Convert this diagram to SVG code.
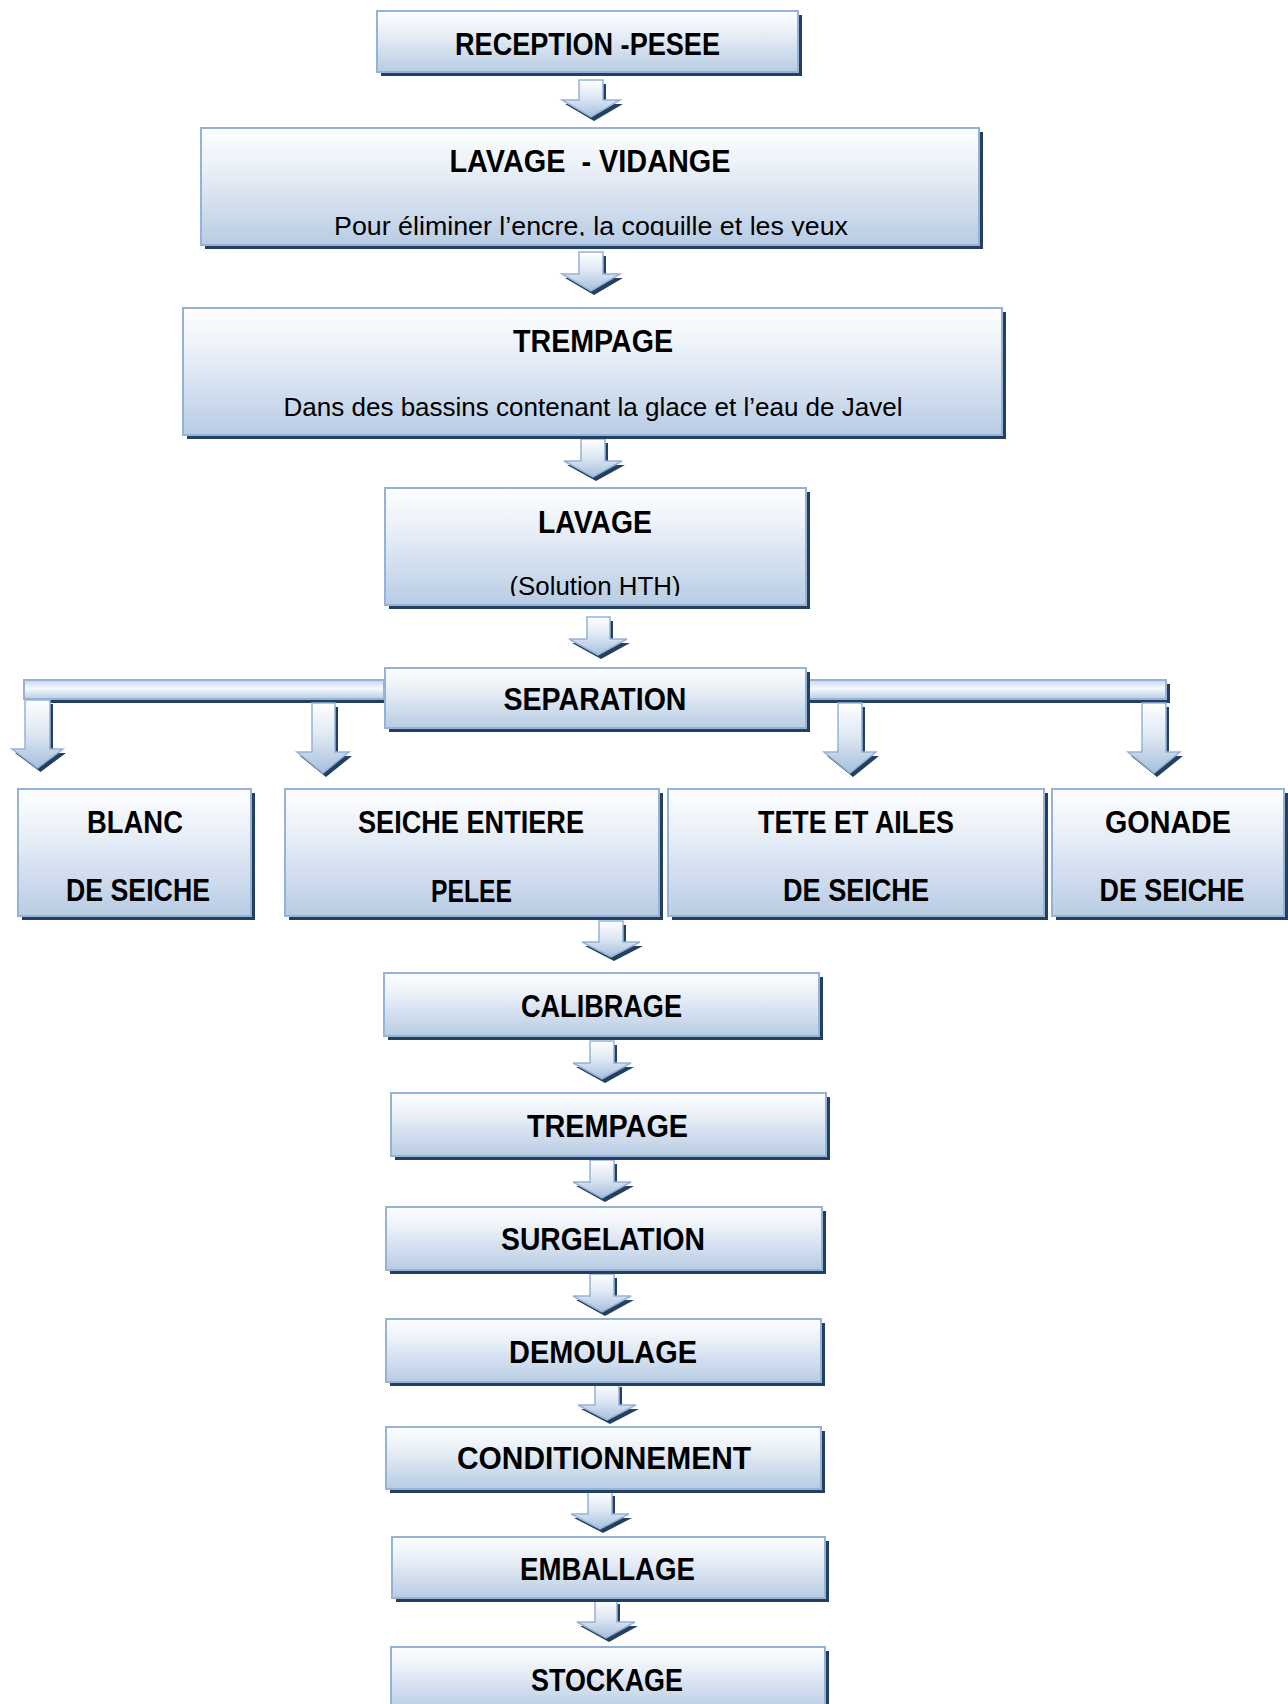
<svg xmlns="http://www.w3.org/2000/svg" width="1288" height="1704" viewBox="0 0 1288 1704">
<style>
.box{fill:url(#gBox);stroke:#95B3D7;stroke-width:2}
.sh{fill:#243F60}
.bar{fill:url(#gBar);stroke:#95B3D7;stroke-width:2}
.arr{fill:url(#gArr);stroke:#95B3D7;stroke-width:1.5;stroke-linejoin:miter}
.t{font-family:"Liberation Sans",Arial,sans-serif;font-weight:bold;font-size:31px;fill:#000;text-anchor:middle}
.s{font-family:"Liberation Sans",Arial,sans-serif;font-size:25px;fill:#000;text-anchor:middle}
</style>
<defs>
<linearGradient id="gBox" x1="0" y1="0" x2="0" y2="1">
<stop offset="0" stop-color="#FDFEFF"/>
<stop offset="0.3" stop-color="#EDF2F9"/>
<stop offset="1" stop-color="#B8CCE4"/>
</linearGradient>
<linearGradient id="gBar" x1="0" y1="0" x2="0" y2="1">
<stop offset="0" stop-color="#C6D7EC"/>
<stop offset="0.45" stop-color="#F6F9FC"/>
<stop offset="1" stop-color="#B8CCE4"/>
</linearGradient>
<linearGradient id="gArr" x1="0" y1="0" x2="0" y2="1">
<stop offset="0" stop-color="#FFFFFF"/>
<stop offset="0.5" stop-color="#DCE6F2"/>
<stop offset="1" stop-color="#A7BFDE"/>
</linearGradient>
<clipPath id="clipVid"><rect x="201" y="128" width="778" height="108"/></clipPath>
<clipPath id="clipHth"><rect x="385" y="488" width="421" height="108"/></clipPath>
</defs>
<rect width="1288" height="1704" fill="#FFFFFF"/>

<g id="connectors">
<rect class="sh" x="28" y="684" width="360" height="19"/>
<rect class="bar" x="24" y="680" width="360" height="19"/>
<rect class="sh" x="810" y="684" width="360" height="19"/>
<rect class="bar" x="806" y="680" width="360" height="19"/>

<path class="sh" transform="translate(3,4)" d="M579,80 H603 V100 H620 L591,117 L562,100 H579 Z"/>
<path class="arr" d="M579,80 H603 V100 H620 L591,117 L562,100 H579 Z"/>
<path class="sh" transform="translate(3,4)" d="M579,252 H603 V274 H620 L591,291 L562,274 H579 Z"/>
<path class="arr" d="M579,252 H603 V274 H620 L591,291 L562,274 H579 Z"/>
<path class="sh" transform="translate(3,4)" d="M581,439 H605 V461 H622 L593,477 L564,461 H581 Z"/>
<path class="arr" d="M581,439 H605 V461 H622 L593,477 L564,461 H581 Z"/>
<path class="sh" transform="translate(3,4)" d="M587,617 H610 V639 H627 L598,655 L569,639 H587 Z"/>
<path class="arr" d="M587,617 H610 V639 H627 L598,655 L569,639 H587 Z"/>

<path class="sh" transform="translate(3,4)" d="M25,700 H50 V749 H63 L37.5,768 L12,749 H25 Z"/>
<path class="arr" d="M25,700 H50 V749 H63 L37.5,768 L12,749 H25 Z"/>
<path class="sh" transform="translate(3,4)" d="M312,703 H335 V752 H349 L323,773 L297,752 H312 Z"/>
<path class="arr" d="M312,703 H335 V752 H349 L323,773 L297,752 H312 Z"/>
<path class="sh" transform="translate(3,4)" d="M838,703 H862 V752 H876 L850,773 L824,752 H838 Z"/>
<path class="arr" d="M838,703 H862 V752 H876 L850,773 L824,752 H838 Z"/>
<path class="sh" transform="translate(3,4)" d="M1142,703 H1166 V752 H1180 L1154,773 L1128,752 H1142 Z"/>
<path class="arr" d="M1142,703 H1166 V752 H1180 L1154,773 L1128,752 H1142 Z"/>

<path class="sh" transform="translate(3,4)" d="M599,921 H623 V942 H640 L611,957 L582,942 H599 Z"/>
<path class="arr" d="M599,921 H623 V942 H640 L611,957 L582,942 H599 Z"/>
<path class="sh" transform="translate(3,4)" d="M590,1041 H614 V1063 H631 L602,1079 L573,1063 H590 Z"/>
<path class="arr" d="M590,1041 H614 V1063 H631 L602,1079 L573,1063 H590 Z"/>
<path class="sh" transform="translate(3,4)" d="M590,1160 H614 V1182 H631 L602,1198 L573,1182 H590 Z"/>
<path class="arr" d="M590,1160 H614 V1182 H631 L602,1198 L573,1182 H590 Z"/>
<path class="sh" transform="translate(3,4)" d="M590,1274 H614 V1296 H631 L602,1312 L573,1296 H590 Z"/>
<path class="arr" d="M590,1274 H614 V1296 H631 L602,1312 L573,1296 H590 Z"/>
<path class="sh" transform="translate(3,4)" d="M595,1383 H619 V1405 H636 L607,1420 L578,1405 H595 Z"/>
<path class="arr" d="M595,1383 H619 V1405 H636 L607,1420 L578,1405 H595 Z"/>
<path class="sh" transform="translate(3,4)" d="M588,1492 H612 V1514 H629 L600,1529 L571,1514 H588 Z"/>
<path class="arr" d="M588,1492 H612 V1514 H629 L600,1529 L571,1514 H588 Z"/>
<path class="sh" transform="translate(3,4)" d="M595,1600 H617 V1622 H635 L606,1638 L577,1622 H595 Z"/>
<path class="arr" d="M595,1600 H617 V1622 H635 L606,1638 L577,1622 H595 Z"/>
</g>

<g id="n-reception">
<rect class="sh" x="381" y="15" width="421" height="61"/>
<rect class="box" x="377" y="11" width="421" height="61"/>
<text class="t" x="587.5" y="55" textLength="265" lengthAdjust="spacingAndGlyphs">RECEPTION -PESEE</text>
</g>

<g id="n-lavage-vidange">
<rect class="sh" x="205" y="132" width="778" height="117"/>
<rect class="box" x="201" y="128" width="778" height="117"/>
<text class="t" x="590" y="172" textLength="281" lengthAdjust="spacingAndGlyphs" xml:space="preserve">LAVAGE  - VIDANGE</text>
<text class="s" x="591" y="235" textLength="514" lengthAdjust="spacingAndGlyphs" clip-path="url(#clipVid)">Pour éliminer l’encre, la coquille et les yeux</text>
</g>

<g id="n-trempage1">
<rect class="sh" x="187" y="312" width="819" height="127"/>
<rect class="box" x="183" y="308" width="819" height="127"/>
<text class="t" x="593" y="352" textLength="160" lengthAdjust="spacingAndGlyphs">TREMPAGE</text>
<text class="s" x="593" y="416" textLength="619" lengthAdjust="spacingAndGlyphs">Dans des bassins contenant la glace et l’eau de Javel</text>
</g>

<g id="n-lavage">
<rect class="sh" x="389" y="492" width="421" height="117"/>
<rect class="box" x="385" y="488" width="421" height="117"/>
<text class="t" x="595" y="533" textLength="114" lengthAdjust="spacingAndGlyphs">LAVAGE</text>
<text class="s" x="595" y="595" textLength="171" lengthAdjust="spacingAndGlyphs" clip-path="url(#clipHth)">(Solution HTH)</text>
</g>

<g id="n-separation">
<rect class="sh" x="389" y="672" width="421" height="60"/>
<rect class="box" x="385" y="668" width="421" height="60"/>
<text class="t" x="595" y="710" textLength="183" lengthAdjust="spacingAndGlyphs">SEPARATION</text>
</g>

<g id="n-blanc">
<rect class="sh" x="22" y="793" width="233" height="127"/>
<rect class="box" x="18" y="789" width="233" height="127"/>
<text class="t" x="135" y="833" textLength="96" lengthAdjust="spacingAndGlyphs">BLANC</text>
<text class="t" x="138" y="901" textLength="144" lengthAdjust="spacingAndGlyphs">DE SEICHE</text>
</g>

<g id="n-seiche-entiere">
<rect class="sh" x="289" y="793" width="374" height="127"/>
<rect class="box" x="285" y="789" width="374" height="127"/>
<text class="t" x="471" y="833" textLength="226" lengthAdjust="spacingAndGlyphs">SEICHE ENTIERE</text>
<text class="t" x="471.5" y="902" textLength="81" lengthAdjust="spacingAndGlyphs">PELEE</text>
</g>

<g id="n-tete-ailes">
<rect class="sh" x="672" y="793" width="376" height="127"/>
<rect class="box" x="668" y="789" width="376" height="127"/>
<text class="t" x="856" y="833" textLength="196" lengthAdjust="spacingAndGlyphs">TETE ET AILES</text>
<text class="t" x="856" y="901" textLength="146" lengthAdjust="spacingAndGlyphs">DE SEICHE</text>
</g>

<g id="n-gonade">
<rect class="sh" x="1056" y="793" width="232" height="127"/>
<rect class="box" x="1052" y="789" width="232" height="127"/>
<text class="t" x="1168" y="833" textLength="126" lengthAdjust="spacingAndGlyphs">GONADE</text>
<text class="t" x="1172" y="901" textLength="145" lengthAdjust="spacingAndGlyphs">DE SEICHE</text>
</g>

<g id="n-calibrage">
<rect class="sh" x="388" y="977" width="435" height="63"/>
<rect class="box" x="384" y="973" width="435" height="63"/>
<text class="t" x="601.5" y="1017" textLength="161" lengthAdjust="spacingAndGlyphs">CALIBRAGE</text>
</g>

<g id="n-trempage2">
<rect class="sh" x="395" y="1097" width="435" height="63"/>
<rect class="box" x="391" y="1093" width="435" height="63"/>
<text class="t" x="607.5" y="1137" textLength="161" lengthAdjust="spacingAndGlyphs">TREMPAGE</text>
</g>

<g id="n-surgelation">
<rect class="sh" x="390" y="1211" width="436" height="63"/>
<rect class="box" x="386" y="1207" width="436" height="63"/>
<text class="t" x="603" y="1250" textLength="204" lengthAdjust="spacingAndGlyphs">SURGELATION</text>
</g>

<g id="n-demoulage">
<rect class="sh" x="390" y="1323" width="435" height="63"/>
<rect class="box" x="386" y="1319" width="435" height="63"/>
<text class="t" x="603" y="1363" textLength="188" lengthAdjust="spacingAndGlyphs">DEMOULAGE</text>
</g>

<g id="n-conditionnement">
<rect class="sh" x="390" y="1431" width="435" height="62"/>
<rect class="box" x="386" y="1427" width="435" height="62"/>
<text class="t" x="604" y="1469" textLength="294" lengthAdjust="spacingAndGlyphs">CONDITIONNEMENT</text>
</g>

<g id="n-emballage">
<rect class="sh" x="396" y="1541" width="433" height="61"/>
<rect class="box" x="392" y="1537" width="433" height="61"/>
<text class="t" x="607.5" y="1580" textLength="175" lengthAdjust="spacingAndGlyphs">EMBALLAGE</text>
</g>

<g id="n-stockage">
<rect class="sh" x="395" y="1651" width="434" height="63"/>
<rect class="box" x="391" y="1647" width="434" height="63"/>
<text class="t" x="607" y="1691" textLength="152" lengthAdjust="spacingAndGlyphs">STOCKAGE</text>
</g>
</svg>
